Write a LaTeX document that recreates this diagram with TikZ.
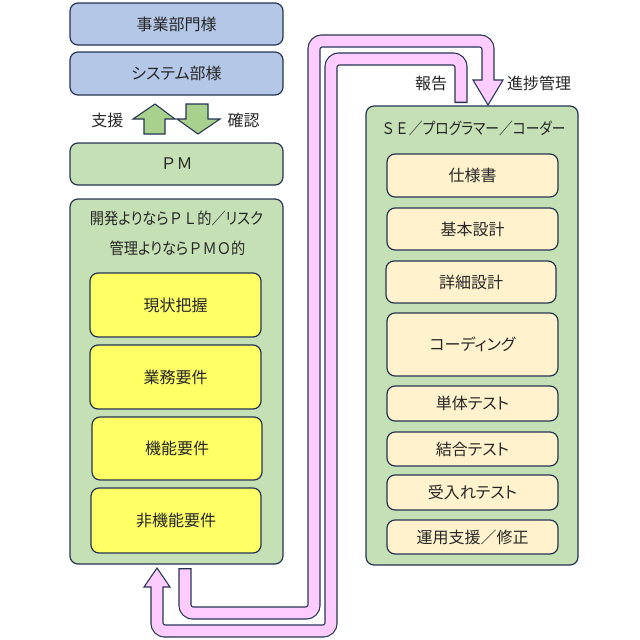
\documentclass[tikz,border=0pt]{standalone}
\usepackage{graphicx}
\usepackage{fontspec}
\newfontfamily\jp[RawFeature=+palt]{Noto Sans CJK JP}
\newfontfamily\jpf{Noto Sans CJK JP}
\definecolor{blueA}{RGB}{180,199,231}
\definecolor{greenA}{RGB}{197,224,180}
\definecolor{greenB}{RGB}{169,209,142}
\definecolor{yelA}{RGB}{255,255,102}
\definecolor{creamA}{RGB}{255,242,204}
\definecolor{pinkA}{RGB}{255,204,255}
\definecolor{edgeA}{RGB}{37,52,82}
\definecolor{txtA}{RGB}{38,38,38}
\begin{document}
\begin{tikzpicture}[x=0.75pt,y=-0.75pt,
  every node/.style={font=\jp\fontsize{12}{14}\selectfont, text=txtA},
  boxA/.style={draw=edgeA, line width=0.9pt, rounded corners=6pt, inner sep=0pt},
  sz/.style 2 args={minimum width=#1*0.75pt, minimum height=#2*0.75pt},
  bandout/.style={draw=edgeA, line width=9.9pt, rounded corners=6pt, line cap=butt},
  bandin/.style={draw=pinkA, line width=8.1pt, rounded corners=6pt, line cap=butt},
  headA/.style={fill=pinkA, draw=edgeA, line width=0.8pt, line join=miter},
  garrow/.style={fill=greenB, draw=edgeA, line width=0.8pt, line join=miter}]
\useasboundingbox (0,0) rectangle (640,640);
\fill[white] (0,0) rectangle (640,640);

% top boxes
\node[boxA, fill=blueA, sz={213}{42}] (jigyo) at (176.5,24) {事業部門様};
\node[boxA, fill=blueA, sz={213}{43}] (sys) at (176.5,73.5) {システム部様};
\node[boxA, fill=greenA, sz={213}{42}] (pm) at (176.5,164) {\jpf ＰＭ};

% support / confirm arrows
\draw[garrow] (155,104) -- (175,119) -- (165,119) -- (165,134) -- (144,134) -- (144,119) -- (133,119) -- cycle;
\draw[garrow] (186,104) -- (208,104) -- (208,119) -- (220,119) -- (198,134) -- (177,119) -- (186,119) -- cycle;
\node (shien) at (107.5,120) {支援};
\node (kakunin) at (243.5,120) {確認};

% left group
\node[boxA, fill=greenA, sz={213}{365}] (lbox) at (176.5,381.5) {};
\node (lt1) at (176.5,218) {\scalebox{0.89}[1]{開発よりなら{\jpf ＰＬ}的／リスク}};
\node (lt2) at (177.5,248) {\scalebox{0.89}[1]{管理よりなら{\jpf ＰＭＯ}的}};
\node[boxA, fill=yelA, sz={171}{64}] (genjo) at (175.5,305) {現状把握};
\node[boxA, fill=yelA, sz={171}{64}] (gyomu) at (175.5,377) {業務要件};
\node[boxA, fill=yelA, sz={170}{63}] (kino) at (177,448.5) {機能要件};
\node[boxA, fill=yelA, sz={170}{65}] (hikino) at (176,520.5) {非機能要件};

% right group
\node[boxA, fill=greenA, sz={212}{459}] (rbox) at (472,335.5) {};
\node (rt) at (473.5,128) {\scalebox{0.86}[1]{{\jpf ＳＥ}／プログラマー／コーダー}};
\node[boxA, fill=creamA, sz={171}{43}] (shiyo) at (472.5,175.5) {仕様書};
\node[boxA, fill=creamA, sz={171}{42}] (kihon) at (472.5,229) {基本設計};
\node[boxA, fill=creamA, sz={170}{42}] (shosai) at (471,282) {詳細設計};
\node[boxA, fill=creamA, sz={171}{63}] (coding) at (472.5,344.5) {コーディング};
\node[boxA, fill=creamA, sz={171}{35}] (tantai) at (472.5,403.5) {単体テスト};
\node[boxA, fill=creamA, sz={171}{34}] (ketsugo) at (472.5,449) {結合テスト};
\node[boxA, fill=creamA, sz={171}{35}] (ukeire) at (472.5,492.5) {受入れテスト};
\node[boxA, fill=creamA, sz={171}{34}] (unyo) at (472.5,537) {運用支援／修正};

% band A : progress management (left group -> SE group)
\coordinate (aS) at (185,568);
\coordinate (aS2) at (185,569.3);
\coordinate (a1) at (185,613);
\coordinate (a2) at (314,613);
\coordinate (a3) at (314,41);
\coordinate (a4) at (488,41);
\coordinate (aB) at (488,80);
\coordinate (aB2) at (488,83);
\coordinate (aT) at (488,105);
\draw[bandout] (aS) -- (a1) -- (a2) -- (a3) -- (a4) -- (aB);
\draw[headA] (473,80) -- (aT) -- (503,80) -- cycle;
\draw[bandin] (aS2) -- (a1) -- (a2) -- (a3) -- (a4) -- (aB2);

% band B : report (SE group -> left group)
\coordinate (bS) at (461,103);
\coordinate (bS2) at (461,101.7);
\coordinate (b1) at (461,59);
\coordinate (b2) at (331,59);
\coordinate (b3) at (331,631);
\coordinate (b4) at (157,631);
\coordinate (bB) at (157,587);
\coordinate (bB2) at (157,584);
\coordinate (bT) at (157,568);
\draw[bandout] (bS) -- (b1) -- (b2) -- (b3) -- (b4) -- (bB);
\draw[headA] (144,587) -- (bT) -- (170,587) -- cycle;
\draw[bandin] (bS2) -- (b1) -- (b2) -- (b3) -- (b4) -- (bB2);

\node (hokoku) at (431,83) {報告};
\node (shincho) at (539,83) {進捗管理};
\end{tikzpicture}
\end{document}
